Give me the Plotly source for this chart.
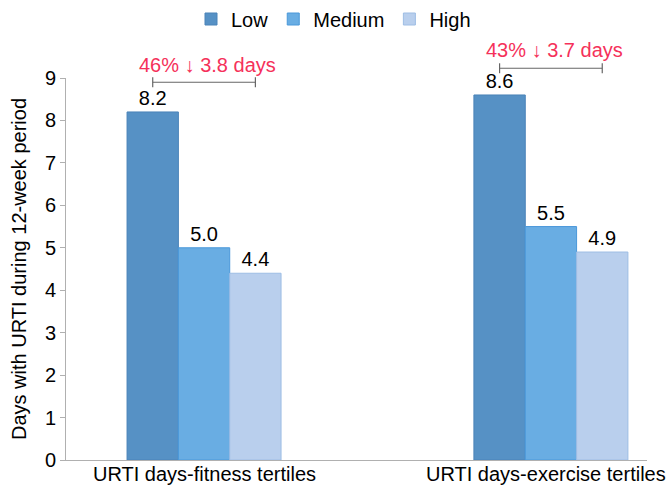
import plotly.graph_objects as go

categories = ["URTI days-fitness tertiles", "URTI days-exercise tertiles"]
category_label_shift = [0, -5]
series_names = ["Low", "Medium", "High"]
low_vals = [8.2, 8.6]
medium_vals = [5.0, 5.5]
high_vals = [4.4, 4.9]
bracket_texts = ["46% \u2193 3.8 days", "43% \u2193 3.7 days"]
bracket_levels = [8.9, 9.23]
text_levels = [9.3, 9.66]

fill_colors = ["#5691c5", "#69ade3", "#b9cfed"]
line_colors = ["#4a83b8", "#4a98da", "#9ebde4"]
FONT = "Arial, Liberation Sans, sans-serif"

fig = go.Figure()
for name, vals, fc, lc in zip(series_names, [low_vals, medium_vals, high_vals], fill_colors, line_colors):
    fig.add_trace(go.Bar(
        name=name, x=[0, 1], y=vals,
        marker=dict(color=fc, line=dict(color=lc, width=1)),
        text=[f"{v:.1f}" for v in vals], textposition="outside",
        textfont=dict(size=20, color="black", family=FONT),
        cliponaxis=False,
    ))

bw = (1 - 0.556) / 3
for i in range(2):
    x0 = i - bw
    x1 = i + bw
    yp = bracket_levels[i] / 9
    fig.add_shape(type="line", xref="x", yref="paper", x0=x0, x1=x1, y0=yp, y1=yp,
                  line=dict(color="#666666", width=1.2))
    for xx in (x0, x1):
        fig.add_shape(type="line", xref="x", yref="paper", x0=xx, x1=xx,
                      y0=yp - 0.013, y1=yp + 0.013, line=dict(color="#666666", width=1.2))
    fig.add_annotation(x=i + 0.01, y=text_levels[i] / 9, xref="x", yref="paper",
                       xanchor="center", yanchor="middle",
                       text=bracket_texts[i], showarrow=False,
                       font=dict(size=20, color="#f5315a", family=FONT))
    fig.add_annotation(x=i, y=0, xref="x", yref="paper", xanchor="center", yanchor="top",
                       xshift=category_label_shift[i], yshift=-1,
                       text=categories[i], showarrow=False,
                       font=dict(size=20, color="black", family=FONT))

fig.update_layout(
    width=667, height=485,
    margin=dict(l=66, r=20, t=78, b=25, autoexpand=False),
    plot_bgcolor="white", paper_bgcolor="white",
    barmode="group", bargap=0.556, bargroupgap=0,
    font=dict(family=FONT, size=20, color="black"),
    showlegend=True,
    legend=dict(orientation="h", x=0.5, xanchor="center", xref="container",
                y=1 - 19 / 485, yanchor="middle", yref="container",
                font=dict(size=20), itemwidth=30, tracegroupgap=0),
    xaxis=dict(range=[-0.398, 1.277], tickmode="array", tickvals=[0, 1], showticklabels=False,
               showgrid=False, zeroline=False, showline=True, linecolor="#b0b0b0", linewidth=1,
               ticks="", automargin=False),
    yaxis=dict(range=[0, 9], dtick=1, showgrid=False, zeroline=False, showline=True,
               linecolor="#b0b0b0", linewidth=1, ticks="outside", ticklen=5, tickcolor="#b0b0b0",
               tickfont=dict(size=20), automargin=False,
               title=dict(text="Days with URTI during 12-week period", font=dict(size=20), standoff=12)),
)

fig.write_html("out.html", config={"displayModeBar": False},
               post_script="document.body.style.margin='0';document.body.style.overflow='hidden';")
